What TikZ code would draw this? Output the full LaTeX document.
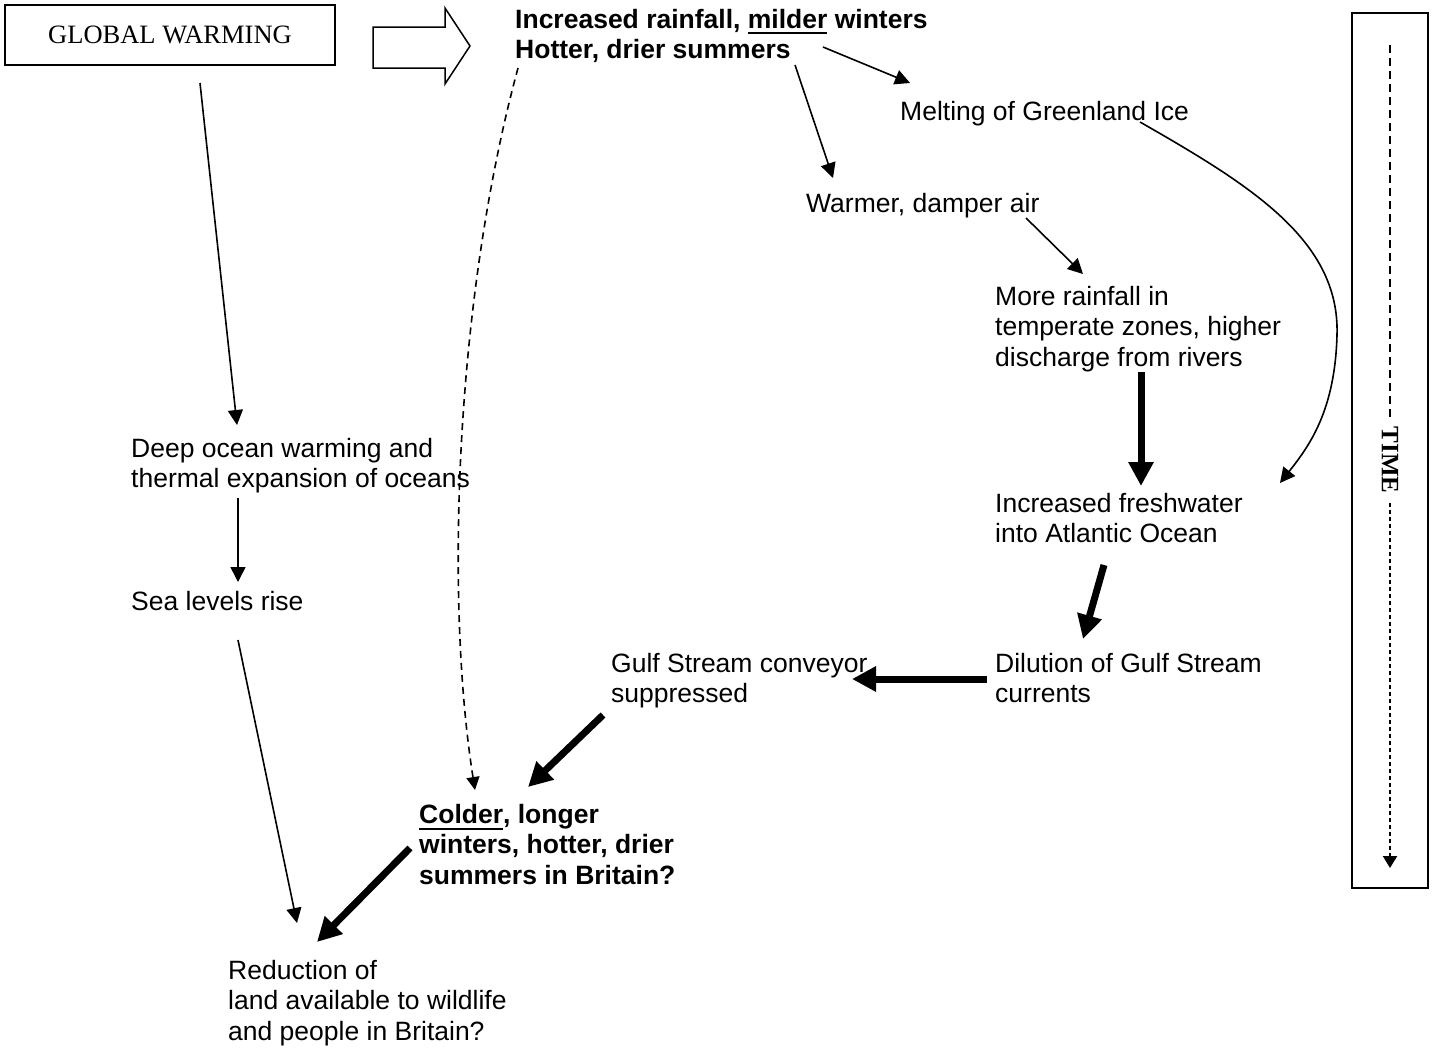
\documentclass[tikz,border=0pt]{standalone}
\usepackage{fontspec}
\setmainfont{Liberation Sans}
\newfontfamily\timesf{Liberation Serif}
\usetikzlibrary{arrows.meta}
\newcommand\lines[1]{\begin{tabular}[t]{@{}l@{}}#1\end{tabular}}
\newcommand\ulx[2][5.5]{\setbox0\hbox{#2}\rlap{\rule[-#1pt]{\wd0}{2pt}}\box0\relax}
\tikzset{
  txt/.style={anchor=base west, inner sep=0pt, font=\fontsize{26.5}{30.5}\selectfont},
  btxt/.style={anchor=base west, inner sep=0pt, font=\fontsize{26.5}{30.5}\selectfont\bfseries},
  thinarr/.style={line width=1.6pt, -{Triangle[length=15pt,width=15pt]}},
  thickarr/.style={line width=7pt, -{Triangle[length=24pt,width=24pt]}},
  dasharr/.style={line width=1.6pt, dash pattern=on 7pt off 5pt, -{Triangle[length=13pt,width=13pt]}}
}
\begin{document}
\begin{tikzpicture}[x=1pt,y=-1pt]
\useasboundingbox (0,0) rectangle (1435,1047);
\fill[white] (0,0) rectangle (1435,1047);

% boxes
\node[draw, line width=2pt, minimum width=330pt, minimum height=60pt, inner sep=0pt,
      font=\timesf\fontsize{26.5}{30}\selectfont] (gw) at (170,35) {GLOBAL WARMING};
\draw[line width=1.5pt, line join=miter] (373,27) -- (445,27) -- (445,8) -- (470,46) -- (445,84) -- (445,68) -- (373,68) -- cycle;

% text nodes
\node[btxt] (hot) at (515,28) {\lines{Increased rainfall, \ulx{milder} winters\\Hotter, drier summers}};
\node[txt] (melt) at (900,120) {Melting of Greenland Ice};
\node[txt] (warm) at (806,212) {Warmer, damper air};
\node[txt] (rain) at (995,305) {\lines{More rainfall in\\temperate zones, higher\\discharge from rivers}};
\node[txt] (fresh) at (995,512) {\lines{Increased freshwater\\into Atlantic Ocean}};
\node[txt] (dil) at (995,672) {\lines{Dilution of Gulf Stream\\currents}};
\node[txt] (gulf) at (611,672) {\lines{Gulf Stream conveyor\\suppressed}};
\node[txt] (deep) at (131,457) {\lines{Deep ocean warming and\\thermal expansion of oceans}};
\node[txt] (sea) at (131,610) {Sea levels rise};
\node[btxt] (cold) at (419,823) {\lines{\ulx[6.5]{Colder}, longer\\winters, hotter, drier\\summers in Britain?}};
\node[txt] (red) at (228,979) {\lines{Reduction of\\land available to wildlife\\and people in Britain?}};

% connector end points
\coordinate (gwA) at (200,83);   \coordinate (deepA) at (237,425);
\coordinate (deepB) at (238,498); \coordinate (seaA) at (238,582);
\coordinate (seaB) at (238,640); \coordinate (redA) at (297,923);
\coordinate (hotA) at (823,47);  \coordinate (meltA) at (910,83);
\coordinate (hotB) at (795,65);  \coordinate (warmA) at (833,178);
\coordinate (warmB) at (1026,218); \coordinate (rainA) at (1083,274);
\coordinate (meltB) at (1140,122); \coordinate (freshA) at (1280,483);
\coordinate (rainB) at (1141,372); \coordinate (freshB) at (1141,486);
\coordinate (freshC) at (1104,565); \coordinate (dilA) at (1083,639);
\coordinate (dilB) at (987,679); \coordinate (gulfA) at (852,679);
\coordinate (gulfB) at (603,715); \coordinate (coldA) at (528,787);
\coordinate (coldB) at (410,848); \coordinate (redB) at (317,942);
\coordinate (hotC) at (518,68);  \coordinate (coldC) at (475,790);

\draw[thinarr] (gwA) -- (deepA);
\draw[thinarr] (deepB) -- (seaA);
\draw[thinarr] (seaB) -- (redA);
\draw[thinarr] (hotA) -- (meltA);
\draw[thinarr] (hotB) -- (warmA);
\draw[thinarr] (warmB) -- (rainA);
\draw[thinarr] (meltB) .. controls (1250,185) and (1340,240) .. (1337,335)
               .. controls (1335,410) and (1310,445) .. (freshA);
\draw[thickarr] (rainB) -- (freshB);
\draw[thickarr] (freshC) -- (dilA);
\draw[thickarr] (dilB) -- (gulfA);
\draw[thickarr] (gulfB) -- (coldA);
\draw[thickarr] (coldB) -- (redB);
\draw[dasharr] (hotC) .. controls (455,300) and (445,600) .. (coldC);

% time bar
\node[draw, line width=2pt, minimum width=76pt, minimum height=875pt, inner sep=0pt] (tbox) at (1390,450.5) {};
\node[rotate=-90, inner sep=9pt, font=\timesf\bfseries\fontsize{25}{25}\selectfont] (time) at (1390,460) {TIME};
\coordinate (tA) at (1390,45); \coordinate (tB) at (1390,868);
\draw[line width=2.5pt, dash pattern=on 8pt off 5pt] (tA) -- (time.west);
\draw[line width=2pt, dash pattern=on 4pt off 3pt, -{Triangle[length=12pt,width=14pt]}] (time.east) -- (tB);
\end{tikzpicture}
\end{document}
